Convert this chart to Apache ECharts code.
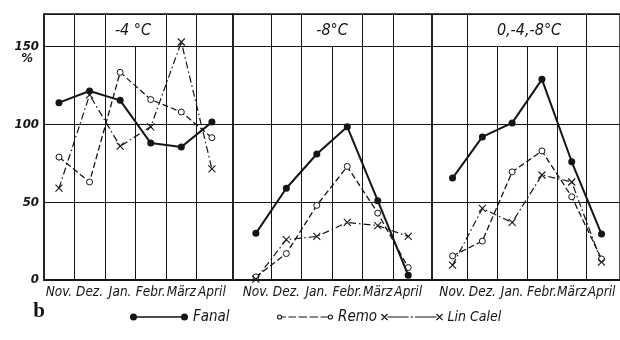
<!DOCTYPE html>
<html>
<head>
<meta charset="utf-8">
<script src="https://cdn.jsdelivr.net/npm/echarts@6/dist/echarts.min.js"></script>
<style>html,body{margin:0;background:#fff}#chart{width:620px;height:340px}</style>
</head>
<body>
<div id="chart"></div>
<script>
// month categories and panel titles
var months = ['Nov.', 'Dez.', 'Jan.', 'Febr.', 'März', 'April'];
var panelTitles = ['-4 °C', '-8°C', '0,-4,-8°C'];

// values in %
var fanal_4 = [114, 121.5, 115.5, 88, 85.5, 101.5];
var remo_4 = [79, 63, 133.5, 116, 108, 91.5];
var calel_4 = [59, 119, 86, 98.5, 153, 71.5];

var fanal_8 = [30, 59, 81, 98.5, 51, 3];
var remo_8 = [2, 17, 48, 73, 43, 8];
var calel_8 = [0.5, 26, 28, 37, 35, 28];

var fanal_mix = [65.5, 92, 101, 129, 76, 29.5];
var remo_mix = [15.5, 25, 69.5, 83, 53.5, 13.5];
var calel_mix = [9.5, 46, 37, 67.5, 63, 11.5];

var ink = '#151515';
var font = 'DejaVu Sans Condensed';

// layout of the three panels; lines = column boundaries
var panels = [
  {left: 44, width: 189, min: -0.49, max: 5.69, full: [0.5, 1.5, 3.5, 4.5], short: [2.5],
   fanal: fanal_4, remo: remo_4, calel: calel_4, tx: 133},
  {left: 233, width: 199, min: -0.75, max: 5.78, full: [0.5, 1.5, 3.5, 4.5], short: [2.5],
   fanal: fanal_8, remo: remo_8, calel: calel_8, tx: 332},
  {left: 432, width: 194, min: -0.69, max: 5.62, full: [0.5, 4.5], short: [1.5, 2.5, 3.5],
   fanal: fanal_mix, remo: remo_mix, calel: calel_mix, tx: 529}
];

function xy(arr) {
  return arr.map(function (v, i) { return [i, v]; });
}

var grids = [], xAxes = [], yAxes = [], series = [], graphics = [];

panels.forEach(function (p, i) {
  grids.push({left: p.left, width: p.width, top: 14, bottom: 60, show: true,
    borderColor: ink, borderWidth: 1.5, backgroundColor: 'transparent'});
  xAxes.push({
    type: 'value', gridIndex: i, min: p.min, max: p.max,
    axisLine: {show: true, onZero: false, lineStyle: {color: ink, width: 2}},
    axisTick: {show: false},
    splitLine: {show: false},
    axisLabel: {
      customValues: [0, 1, 2, 3, 4, 5],
      formatter: function (v) { return months[Math.round(v)]; },
      margin: 5, color: ink, fontFamily: font, fontStyle: 'italic', fontSize: 13.5
    }
  });
  yAxes.push({
    type: 'value', gridIndex: i, min: 0, max: 171, interval: 50,
    axisLine: {show: i === 0, onZero: false, lineStyle: {color: ink, width: 1.5}},
    axisTick: {show: false},
    splitLine: {show: true, lineStyle: {color: ink, width: 1}},
    axisLabel: {show: i === 0, showMaxLabel: false, margin: 5, color: ink,
      fontFamily: font, fontStyle: 'italic', fontWeight: 'bold', fontSize: 13}
  });

  var lines = p.full.map(function (b) { return {xAxis: b}; });
  p.short.forEach(function (b) { lines.push([{coord: [b, 0]}, {coord: [b, 150]}]); });

  series.push({
    name: 'Fanal', type: 'line', xAxisIndex: i, yAxisIndex: i, data: xy(p.fanal),
    symbol: 'circle', symbolSize: 7, z: 4,
    itemStyle: {color: ink},
    lineStyle: {color: ink, width: 2},
    markLine: {silent: true, symbol: 'none', label: {show: false}, animation: false,
      lineStyle: {color: ink, width: 1, type: 'solid'}, emphasis: {disabled: true}, data: lines}
  });
  series.push({
    name: 'Remo', type: 'line', xAxisIndex: i, yAxisIndex: i, data: xy(p.remo),
    symbol: 'circle', symbolSize: 6, z: 3,
    itemStyle: {color: '#fff', borderColor: ink, borderWidth: 1},
    lineStyle: {color: ink, width: 1.3, type: [6, 3]}
  });
  series.push({
    name: 'Lin Calel', type: 'line', xAxisIndex: i, yAxisIndex: i, data: xy(p.calel),
    symbol: 'path://M0,0L10,10M10,0L0,10', symbolSize: 7, z: 3,
    itemStyle: {color: ink, borderColor: ink, borderWidth: 1.1},
    lineStyle: {color: ink, width: 1.2, type: [7, 3, 1.5, 3]}
  });

  graphics.push({type: 'text', x: p.tx, y: 31, style: {text: panelTitles[i],
    font: 'italic 16px "' + font + '"', fill: ink, textAlign: 'center', textVerticalAlign: 'middle'}});
});

graphics.push({type: 'text', x: 27, y: 59, style: {text: '%',
  font: 'italic bold 13px "' + font + '"', fill: ink, textAlign: 'center', textVerticalAlign: 'middle'}});
graphics.push({type: 'text', x: 39, y: 312, style: {text: 'b',
  font: 'bold 21px "Liberation Serif"', fill: ink, textAlign: 'center', textVerticalAlign: 'middle'}});

var iconFanal = 'path://M0,4A3.5,3.5,0,1,1,7,4A3.5,3.5,0,1,1,0,4ZM51,4A3.5,3.5,0,1,1,58,4A3.5,3.5,0,1,1,51,4ZM3.5,3.2L54.5,3.2L54.5,4.8L3.5,4.8Z';
var iconRemo = 'path://M0,4A2.6,2.6,0,1,1,5.2,4A2.6,2.6,0,1,1,0,4ZM1.1,4A1.5,1.5,0,1,0,4.1,4A1.5,1.5,0,1,0,1.1,4Z' +
  'M50.8,4A2.6,2.6,0,1,1,56,4A2.6,2.6,0,1,1,50.8,4ZM51.9,4A1.5,1.5,0,1,0,54.9,4A1.5,1.5,0,1,0,51.9,4Z' +
  'M5.2,3.4L9,3.4L9,4.6L5.2,4.6ZM11.5,3.4L19,3.4L19,4.6L11.5,4.6ZM21.5,3.4L30,3.4L30,4.6L21.5,4.6Z' +
  'M32.5,3.4L41,3.4L41,4.6L32.5,4.6ZM43.5,3.4L50.8,3.4L50.8,4.6L43.5,4.6Z';
var iconCalel = 'path://M0,1L6,7M0,7L6,1M55,1L61,7M55,7L61,1M6,4L27,4M29,4L31.5,4M33.5,4L55,4';

var legendText = {color: ink, fontFamily: font, fontStyle: 'italic', fontSize: 15, lineHeight: 16};

var option = {
  animation: false,
  backgroundColor: '#fff',
  grid: grids,
  xAxis: xAxes,
  yAxis: yAxes,
  series: series,
  graphic: graphics,
  legend: [
    {left: 130, top: 309, padding: 0, itemWidth: 58, itemHeight: 8, selectedMode: false, textStyle: legendText,
     data: [{name: 'Fanal', icon: iconFanal, itemStyle: {color: ink, borderWidth: 0}}]},
    {left: 277, top: 309, padding: 0, itemWidth: 56, itemHeight: 8, selectedMode: false, textStyle: legendText,
     data: [{name: 'Remo', icon: iconRemo, itemStyle: {color: ink, borderWidth: 0}}]},
    {left: 379, top: 309, padding: 0, itemWidth: 61, itemHeight: 8, selectedMode: false,
     textStyle: {color: ink, fontFamily: font, fontStyle: 'italic', fontSize: 14, lineHeight: 16},
     data: [{name: 'Lin Calel', icon: iconCalel, itemStyle: {color: 'none', borderColor: ink, borderWidth: 1.2}}]}
  ]
};

var chart = echarts.init(document.getElementById('chart'));
chart.setOption(option);
</script>
</body>
</html>
